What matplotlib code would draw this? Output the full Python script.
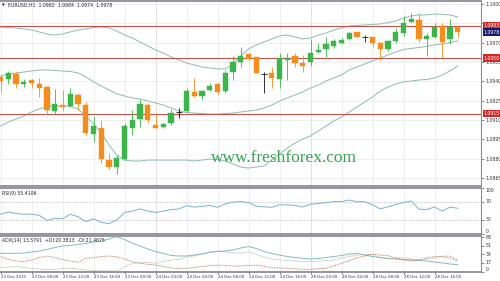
import numpy as np
import matplotlib
matplotlib.use("Agg")
import matplotlib.pyplot as plt
import matplotlib.transforms as mtransforms

# ---------------- data ----------------
symbol_header = "EURUSD,H1  1.0982  1.0984  1.0974  1.0978"
rsi_header = "RSI(9) 55.4106"
adx_header = "ADX(14) 13.5791  +DI:20.3813  -DI:21.4675"

open_ = [1.09434, 1.09415, 1.09457, 1.09382, 1.09410, 1.09379, 1.09354, 1.09172, 1.09216, 1.09212,
         1.09294, 1.09216, 1.08991, 1.09040, 1.08789, 1.08735, 1.08795, 1.09040, 1.09108, 1.09216,
         1.09061, 1.09048, 1.09074, 1.09162, 1.09172, 1.09319, 1.09286, 1.09333, 1.09379, 1.09323,
         1.09475, 1.09552, 1.09612, 1.09585, 1.09457, 1.09467, 1.09415, 1.09565, 1.09596, 1.09540,
         1.09547, 1.09625, 1.09648, 1.09676, 1.09700, 1.09726, 1.09780, 1.09746, 1.09742, 1.09695,
         1.09648, 1.09715, 1.09777, 1.09863, 1.09876, 1.09728, 1.09742, 1.09832, 1.09726, 1.0982]
high = [1.09449, 1.09482, 1.09472, 1.09416, 1.09420, 1.09426, 1.09364, 1.09337, 1.09333, 1.09346,
        1.09309, 1.09242, 1.09131, 1.09100, 1.08841, 1.08828, 1.09074, 1.09177, 1.09260, 1.09229,
        1.09152, 1.09079, 1.09183, 1.09191, 1.09346, 1.09423, 1.09333, 1.09385, 1.09385, 1.09488,
        1.09600, 1.09669, 1.09617, 1.09591, 1.09475, 1.09513, 1.09617, 1.09617, 1.09617, 1.09604,
        1.09726, 1.09695, 1.09746, 1.09726, 1.09734, 1.09785, 1.09785, 1.09759, 1.09746, 1.09707,
        1.09721, 1.09811, 1.09907, 1.09932, 1.09932, 1.09777, 1.09855, 1.09855, 1.09881, 1.0984]
low = [1.09317, 1.09377, 1.09348, 1.09358, 1.09346, 1.09282, 1.09139, 1.09139, 1.09171, 1.09198,
       1.09177, 1.08983, 1.08931, 1.08764, 1.08712, 1.08681, 1.08789, 1.08983, 1.09048, 1.09074,
       1.09038, 1.09035, 1.09061, 1.09113, 1.09164, 1.09276, 1.09255, 1.09325, 1.09294, 1.09307,
       1.09410, 1.09513, 1.09565, 1.09462, 1.09312, 1.09346, 1.09346, 1.09410, 1.09513, 1.09475,
       1.09519, 1.09617, 1.09586, 1.09661, 1.09690, 1.09721, 1.09742, 1.09707, 1.09669, 1.09565,
       1.09635, 1.09700, 1.09752, 1.09858, 1.09707, 1.09596, 1.09734, 1.09579, 1.09687, 1.0974]
close = [1.09402, 1.09467, 1.09377, 1.09397, 1.09385, 1.09346, 1.09180, 1.09224, 1.09198, 1.09299,
         1.09222, 1.08997, 1.09053, 1.08795, 1.08733, 1.08809, 1.09053, 1.09100, 1.09224, 1.09100,
         1.09040, 1.09069, 1.09152, 1.09162, 1.09327, 1.09286, 1.09325, 1.09364, 1.09319, 1.09467,
         1.09552, 1.09596, 1.09571, 1.09467, 1.09457, 1.09423, 1.09579, 1.09579, 1.09545, 1.09519,
         1.09617, 1.09643, 1.09687, 1.09715, 1.09721, 1.09773, 1.09746, 1.09746, 1.09695, 1.09648,
         1.09713, 1.09785, 1.09850, 1.09884, 1.09726, 1.09754, 1.09819, 1.09707, 1.09819, 1.0978]

bb_upper = [1.09821, 1.09818, 1.09814, 1.09806, 1.09798, 1.09783, 1.09767, 1.09759, 1.09767, 1.09783,
            1.09798, 1.09806, 1.09818, 1.09821, 1.09814, 1.09790, 1.09759, 1.09736, 1.09705, 1.09674,
            1.09643, 1.09620, 1.09589, 1.09565, 1.09542, 1.09527, 1.09511, 1.09504, 1.09496, 1.09496,
            1.09534, 1.09596, 1.09651, 1.09682, 1.09705, 1.09728, 1.09752, 1.09759, 1.09744, 1.09728,
            1.09736, 1.09759, 1.09775, 1.09798, 1.09814, 1.09829, 1.09833, 1.09837, 1.09841, 1.09845,
            1.09856, 1.09868, 1.09891, 1.09907, 1.09915, 1.09915, 1.09922, 1.09918, 1.09915, 1.09899]
bb_middle = [1.09441, 1.09457, 1.09465, 1.09472, 1.09480, 1.09488, 1.09488, 1.09484, 1.09480, 1.09476,
             1.09465, 1.09434, 1.09395, 1.09364, 1.09333, 1.09302, 1.09286, 1.09271, 1.09263, 1.09247,
             1.09232, 1.09216, 1.09193, 1.09170, 1.09158, 1.09154, 1.09150, 1.09146, 1.09146, 1.09150,
             1.09154, 1.09162, 1.09170, 1.09177, 1.09193, 1.09216, 1.09247, 1.09271, 1.09294, 1.09317,
             1.09348, 1.09371, 1.09402, 1.09426, 1.09449, 1.09488, 1.09511, 1.09534, 1.09558, 1.09581,
             1.09604, 1.09628, 1.09647, 1.09655, 1.09662, 1.09670, 1.09682, 1.09690, 1.09701, 1.09713]
bb_lower = [1.09053, 1.09084, 1.09108, 1.09131, 1.09162, 1.09185, 1.09205, 1.09209, 1.09209, 1.09205,
            1.09185, 1.09131, 1.09069, 1.08999, 1.08906, 1.08828, 1.08789, 1.08782, 1.08782, 1.08789,
            1.08789, 1.08789, 1.08789, 1.08789, 1.08789, 1.08782, 1.08789, 1.08797, 1.08793, 1.08782,
            1.08758, 1.08735, 1.08727, 1.08735, 1.08743, 1.08789, 1.08836, 1.08882, 1.08921, 1.08952,
            1.08976, 1.09015, 1.09053, 1.09092, 1.09123, 1.09162, 1.09201, 1.09240, 1.09278, 1.09325,
            1.09356, 1.09379, 1.09395, 1.09402, 1.09410, 1.09414, 1.09426, 1.09449, 1.09480, 1.09519]

rsi = [42.5, 47, 44, 42.5, 42.5, 40, 28.6, 33.4, 32.1, 42.5,
       36.9, 26.5, 32.1, 24.5, 21.8, 29.6, 46.2, 49.3, 54.1, 49.3,
       46.2, 49.3, 52.4, 54.1, 61.1, 58.2, 59.7, 61.8, 57.6, 64.9,
       69, 70, 68, 59.7, 58.7, 57.6, 63.2, 62.8, 61.8, 58.2,
       64.5, 65.9, 68, 70, 70, 73.6, 70, 70, 62.8, 54.1,
       58.7, 63.8, 68, 71.5, 53.5, 52.8, 58.2, 49.3, 58.2, 55.4]

adx = [35.9, 35.9, 35.9, 36.5, 38.5, 40.4, 43.4, 47.3, 50.3, 51.3,
       53.3, 55.2, 58.2, 60.2, 64.1, 68.6, 63.1, 56.2, 50.3, 44.4,
       39.4, 35.5, 31.6, 30.6, 30.6, 32.5, 34.5, 37.5, 39.4, 40.4,
       42.4, 46.4, 49.3, 45.4, 39.4, 35.5, 32.5, 29.6, 27.6, 26.0,
       24.7, 25.7, 27.6, 29.6, 31.6, 34.5, 35.5, 32.5, 29.6, 27.6,
       26.0, 24.7, 23.7, 22.7, 21.7, 20.7, 18.7, 16.8, 14.8, 13.58]
plus_di = [7.5, 8.9, 9.5, 7.9, 6.3, 4.9, 3.0, 3.9, 5.9, 6.3,
           4.9, 3.0, 2.0, 1.5, 1.2, 1.2, 8.9, 15.8, 17.4, 18.1,
           16.2, 19.7, 22.7, 24.1, 28.6, 30.6, 34.5, 39.4, 40.4, 39.0,
           36.5, 35.9, 38.5, 33.5, 28.6, 24.7, 22.7, 21.7, 20.7, 19.7,
           19.3, 20.7, 21.7, 22.7, 26.6, 29.6, 32.5, 33.5, 33.9, 26.6,
           24.7, 26.6, 27.2, 24.7, 22.7, 24.1, 26.6, 29.2, 26.0, 20.38]
minus_di = [29.2, 23.7, 20.7, 19.7, 22.7, 27.6, 30.6, 27.6, 23.7, 20.7,
            18.1, 26.0, 27.2, 29.6, 30.6, 29.2, 24.7, 19.3, 16.2, 14.2,
            12.8, 9.9, 6.9, 6.3, 6.3, 7.9, 9.5, 11.8, 12.8, 11.8,
            10.8, 10.8, 11.8, 12.8, 9.9, 7.5, 6.9, 6.3, 5.3, 4.3,
            4.3, 5.3, 6.3, 10.8, 16.2, 21.7, 27.2, 30.6, 33.9, 32.5,
            31.2, 26.6, 22.7, 20.7, 22.7, 27.2, 29.2, 30.0, 30.6, 21.47]

time_tick_idx = [0, 4, 8, 12, 16, 20, 24, 28, 32, 36, 40, 44, 48, 52, 56]
time_labels = ["23 Dec 2015", "23 Dec 08:00", "23 Dec 12:00", "23 Dec 16:00", "23 Dec 20:00",
               "24 Dec 00:00", "24 Dec 04:00", "24 Dec 08:00", "24 Dec 12:00", "24 Dec 16:00",
               "28 Dec 00:00", "28 Dec 04:00", "28 Dec 08:00", "28 Dec 12:00", "28 Dec 16:00"]

price_ticks = [1.1000, 1.0985, 1.0970, 1.0955, 1.0940, 1.0925, 1.0910, 1.0895, 1.0880, 1.0865]
hidden_price_ticks = [1.0985]          # covered by the level marker in the reference
levels = [1.0983, 1.0958, 1.0915]
rsi_ticks = [100, 70, 30, 0]
rsi_levels = [70, 30]
adx_ticks = [68, 51, 34, 17, 0]
watermark = "www.freshforex.com"

# ---------------- style ----------------
C_UP = "#3cb64a"
C_DN = "#f48c1e"
C_BB = "#8dbcae"
C_RSI = "#79b4c4"
C_ADX = "#84bcbc"
C_PDI = "#9aab9a"
C_MDI = "#b26450"
C_LVL = "#c2534c"
C_GRID = "#e9e9ec"
C_SPINE = "#8c8c96"
FS = 3.3
FS_T = 2.75

n = len(open_)
x = np.arange(n)
XL = (-0.07, 62.0)

fig = plt.figure(figsize=(5, 2.81), dpi=100)
fig.patch.set_facecolor("white")

ax = fig.add_axes([0, 0.3381, 0.962, 0.6584])
ax_r = fig.add_axes([0, 0.1690, 0.962, 0.1619])
ax_a = fig.add_axes([0, 0.0320, 0.962, 0.1299])

for a in (ax, ax_r, ax_a):
    a.set_xlim(*XL)
    a.set_facecolor("white")
    a.set_xticks(time_tick_idx)
    a.grid(True, axis="x", color=C_GRID, lw=0.5, zorder=0)
    a.spines["left"].set_visible(False)
    for s in ("top", "bottom", "right"):
        a.spines[s].set_color(C_SPINE)
    a.spines["top"].set_linewidth(1.3)
    a.spines["bottom"].set_linewidth(1.3)
    a.spines["right"].set_linewidth(0.8)
    a.yaxis.tick_right()
    a.tick_params(axis="y", direction="out", length=2, width=0.4, pad=1,
                  labelsize=FS, colors="#333333")
    for idx, lab in zip(time_tick_idx, time_labels):
        if lab.endswith("00:00"):
            a.axvline(idx, color="#8a8a8a", lw=0.6, ls=(0, (1, 1.2)), zorder=1)

ax.tick_params(axis="x", length=0, labelbottom=False)
ax_r.tick_params(axis="x", length=0, labelbottom=False)
ax_a.set_xticklabels(time_labels, fontsize=FS_T, ha="left", color="#333333")
ax_a.tick_params(axis="x", length=1.5, width=0.4, pad=1)

# ---------------- price panel ----------------
ax.set_ylim(1.08588, 1.10023)
ax.set_yticks(price_ticks)
ax.set_yticklabels(["" if p in hidden_price_ticks else f"{p:.4f}" for p in price_ticks])
ax.grid(True, axis="y", color=C_GRID, lw=0.5, zorder=0)

ax.plot(x, bb_upper, color=C_BB, lw=0.7, zorder=2)
ax.plot(x, bb_middle, color=C_BB, lw=0.7, zorder=2)
ax.plot(x, bb_lower, color=C_BB, lw=0.7, zorder=2)

for lv in levels:
    ax.axhline(lv, color=C_LVL, lw=0.8, zorder=2)

o = np.array(open_); c = np.array(close); h = np.array(high); l = np.array(low)
cols = np.where(c > o, C_UP, np.where(c < o, C_DN, "#111111"))
ax.vlines(x, l, h, colors=cols, lw=0.6, zorder=3)
body = c - o
is_doji = np.isclose(body, 0)
ax.bar(x[~is_doji], body[~is_doji], bottom=o[~is_doji], width=0.68,
       color=cols[~is_doji], edgecolor=cols[~is_doji], lw=0.3, zorder=4)
ax.hlines(o[is_doji], x[is_doji] - 0.38, x[is_doji] + 0.38, colors="#111111", lw=0.6, zorder=4)

blend = mtransforms.blended_transform_factory(ax.transAxes, ax.transData)
for lv in levels:
    ax.text(1.006, lv, f"{lv:.4f}", transform=blend, ha="left", va="center",
            fontsize=FS, color="white", clip_on=False, zorder=10,
            bbox=dict(boxstyle="square,pad=0.3", fc="#d42828", ec="none"))
ax.text(1.006, close[-1], f"{close[-1]:.4f}", transform=blend, ha="left", va="center",
        fontsize=FS, color="white", clip_on=False, zorder=10,
        bbox=dict(boxstyle="square,pad=0.3", fc="#171a6e", ec="none"))

ax.text(0.004, 0.978, "▼", transform=ax.transAxes, fontsize=2.6, color="#333333",
        ha="left", va="center")
ax.text(0.016, 0.978, symbol_header, transform=ax.transAxes, fontsize=FS,
        color="#222222", ha="left", va="center")

ax.text(0.59, 0.15, watermark, transform=ax.transAxes, ha="center", va="center",
        fontsize=12.5, color="#37a151", family="Liberation Serif", zorder=6)

# ---------------- RSI panel ----------------
ax_r.set_ylim(0, 100)
ax_r.set_yticks(rsi_ticks)
ax_r.set_yticklabels([])
for lv in rsi_levels:
    ax_r.axhline(lv, color="#9c9ca4", lw=0.5, ls=(0, (1, 1.5)), zorder=1)
ax_r.plot(x, rsi, color=C_RSI, lw=0.7, zorder=3)
blend_r = mtransforms.blended_transform_factory(ax_r.transAxes, ax_r.transData)
for t in rsi_ticks:
    va = "top" if t == max(rsi_ticks) else ("bottom" if t == min(rsi_ticks) else "center")
    ax_r.text(1.009, t, str(t), transform=blend_r, ha="left", va=va, fontsize=FS,
              color="#333333", clip_on=False)
ax_r.text(0.004, 0.89, rsi_header, transform=ax_r.transAxes, fontsize=FS,
          color="#222222", ha="left", va="center")

# ---------------- ADX panel ----------------
ax_a.set_ylim(-1, 71)
ax_a.set_yticks(adx_ticks)
ax_a.set_yticklabels([])
ax_a.plot(x, adx, color=C_ADX, lw=0.7, zorder=3)
ax_a.plot(x, plus_di, color=C_PDI, lw=0.6, ls=(0, (1, 1)), zorder=3)
ax_a.plot(x, minus_di, color=C_MDI, lw=0.6, ls=(0, (1, 1)), zorder=3)
blend_a = mtransforms.blended_transform_factory(ax_a.transAxes, ax_a.transData)
for t in adx_ticks:
    va = "bottom" if t == min(adx_ticks) else "center"
    ax_a.text(1.009, t, str(t), transform=blend_a, ha="left", va=va, fontsize=FS,
              color="#333333", clip_on=False)
ax_a.text(0.004, 0.87, adx_header, transform=ax_a.transAxes, fontsize=FS,
          color="#222222", ha="left", va="center")

fig.savefig("out.png", dpi=100, facecolor="white")
